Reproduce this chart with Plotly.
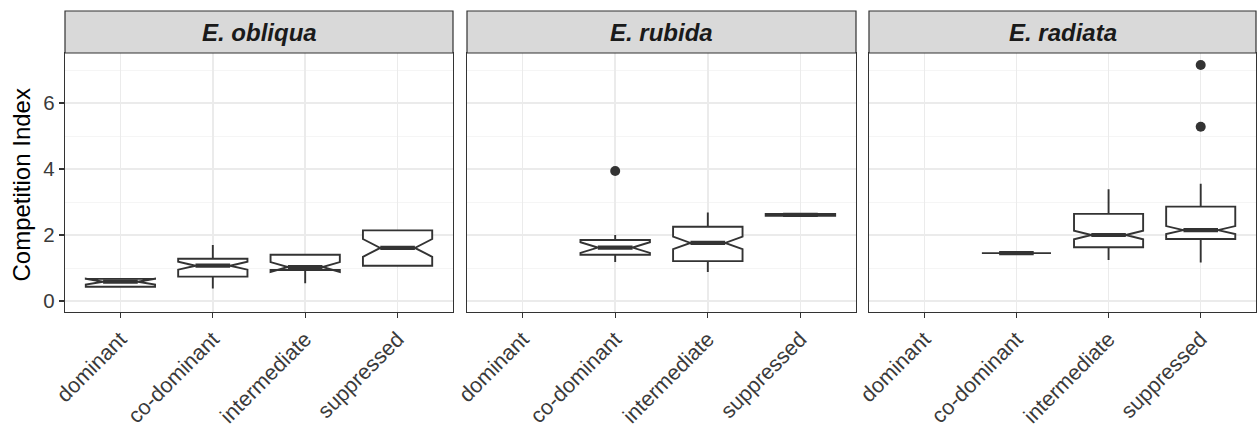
import plotly.graph_objects as go

# ---------------- data ----------------
categories = ["dominant", "co-dominant", "intermediate", "suppressed"]
species = ["E. obliqua", "E. rubida", "E. radiata"]

# E. obliqua
obl_pos = [1, 2, 3, 4]
obl_q1 = [0.43, 0.74, 0.94, 1.07]
obl_med = [0.585, 1.07, 1.03, 1.61]
obl_q3 = [0.67, 1.28, 1.40, 2.14]
obl_lo = [0.43, 0.38, 0.54, 1.07]
obl_hi = [0.67, 1.70, 1.40, 2.14]
obl_notch = [0.09, 0.12, 0.15, 0.27]
obl_out_x = []
obl_out_y = []

# E. rubida
rub_pos = [2, 3, 4]
rub_q1 = [1.40, 1.21, 2.585]
rub_med = [1.62, 1.76, 2.61]
rub_q3 = [1.85, 2.25, 2.635]
rub_lo = [1.18, 0.88, 2.585]
rub_hi = [2.00, 2.68, 2.635]
rub_notch = [0.16, 0.19, 0.01]
rub_out_x = [2]
rub_out_y = [3.94]

# E. radiata
rad_pos = [2, 3, 4]
rad_q1 = [1.45, 1.63, 1.88]
rad_med = [1.45, 2.00, 2.15]
rad_q3 = [1.45, 2.64, 2.86]
rad_lo = [1.45, 1.24, 1.17]
rad_hi = [1.45, 3.39, 3.55]
rad_notch = [0.0, 0.13, 0.12]
rad_out_x = [4, 4]
rad_out_y = [7.15, 5.28]

REF_LINE = 0

panels = [
    (obl_pos, obl_q1, obl_med, obl_q3, obl_lo, obl_hi, obl_notch, obl_out_x, obl_out_y),
    (rub_pos, rub_q1, rub_med, rub_q3, rub_lo, rub_hi, rub_notch, rub_out_x, rub_out_y),
    (rad_pos, rad_q1, rad_med, rad_q3, rad_lo, rad_hi, rad_notch, rad_out_x, rad_out_y),
]

# ---------------- style / layout ----------------
W, H = 1257, 428
FONT = "Liberation Sans, Arial, sans-serif"
DARK = "#333333"
TICKCOL = "#3A3A3A"
BOX_W = 0.75
panel_px = [(65, 453), (467, 856), (869, 1256)]
top_px, bot_px, strip_top_px = 53, 312, 11
ydom = [1 - bot_px / H, 1 - top_px / H]

fig = go.Figure()

for i, (pos, q1, med, q3, lo, hi, notch, ox, oy) in enumerate(panels):
    xa = "x" if i == 0 else f"x{i+1}"
    ya = "y" if i == 0 else f"y{i+1}"
    fig.add_trace(go.Box(
        x=pos, q1=q1, median=med, q3=q3, lowerfence=lo, upperfence=hi,
        notchspan=notch, notched=True, notchwidth=0.25,
        width=BOX_W, whiskerwidth=0, boxpoints=False,
        fillcolor="white", line=dict(color=DARK, width=1.9),
        xaxis=xa, yaxis=ya, showlegend=False, hoverinfo="skip",
    ))
    # thick median segments (ggplot fatten)
    mx, my = [], []
    for p, m in zip(pos, med):
        mx += [p - BOX_W / 4, p + BOX_W / 4, None]
        my += [m, m, None]
    fig.add_trace(go.Scatter(x=mx, y=my, mode="lines",
                             line=dict(color=DARK, width=4.2),
                             xaxis=xa, yaxis=ya, showlegend=False, hoverinfo="skip"))
    if ox:
        fig.add_trace(go.Scatter(x=ox, y=oy, mode="markers",
                                 marker=dict(color=DARK, size=10),
                                 xaxis=xa, yaxis=ya, showlegend=False, hoverinfo="skip"))

layout = dict(
    width=W, height=H,
    margin=dict(l=0, r=0, t=0, b=0),
    paper_bgcolor="white", plot_bgcolor="white",
    font=dict(family=FONT, color="#000000"),
    showlegend=False,
    shapes=[], annotations=[],
)

for i, (x0, x1) in enumerate(panel_px):
    xk = "xaxis" if i == 0 else f"xaxis{i+1}"
    yk = "yaxis" if i == 0 else f"yaxis{i+1}"
    yref = "y" if i == 0 else f"y{i+1}"
    xref = "x" if i == 0 else f"x{i+1}"
    layout[xk] = dict(
        domain=[x0 / W, x1 / W], anchor=yref, range=[0.4, 4.6],
        tickmode="array", tickvals=[1, 2, 3, 4], ticktext=categories,
        tickangle=-45, ticks="outside", ticklen=5, tickwidth=1.2, tickcolor=DARK,
        tickfont=dict(size=21.5, color=TICKCOL, family=FONT),
        showgrid=True, gridcolor="#EBEBEB", gridwidth=1.5,
        showline=True, mirror=True, linecolor=DARK, linewidth=1.2,
        zeroline=False, automargin=False, fixedrange=True,
    )
    layout[yk] = dict(
        domain=ydom, anchor=xref, range=[-0.333, 7.515],
        tickmode="linear", tick0=0, dtick=2,
        ticks="outside" if i == 0 else "", ticklen=5, tickwidth=1.2, tickcolor=DARK,
        showticklabels=(i == 0),
        tickfont=dict(size=20.5, color=TICKCOL, family=FONT),
        showgrid=True, gridcolor="#EBEBEB", gridwidth=1.5,
        minor=dict(dtick=1, tick0=0, showgrid=True, gridcolor="#F2F2F2", gridwidth=0.8, ticks=""),
        showline=True, mirror=True, linecolor=DARK, linewidth=1.2,
        zeroline=False, automargin=False, fixedrange=True,
    )
    if i > 0:
        layout[yk]["matches"] = "y"
    # dashed reference line at 0
    layout["shapes"].append(dict(
        type="line", xref=f"{xref} domain", x0=0, x1=1, yref=yref, y0=REF_LINE, y1=REF_LINE,
        line=dict(color="#A8A8A8", width=1.5, dash="8px,6px"), layer="below",
    ))
    # strip
    layout["shapes"].append(dict(
        type="rect", xref="paper", yref="paper",
        x0=x0 / W, x1=x1 / W, y0=1 - top_px / H, y1=1 - strip_top_px / H,
        fillcolor="#D9D9D9", line=dict(color=DARK, width=1.2), layer="above",
    ))
    layout["annotations"].append(dict(
        text=f"<b><i>{species[i]}</i></b>", xref="paper", yref="paper",
        x=(x0 + x1) / 2 / W, y=1 - (strip_top_px + top_px) / 2 / H,
        xanchor="center", yanchor="middle", showarrow=False,
        font=dict(size=24, color="#1A1A1A", family=FONT),
    ))

layout["annotations"].append(dict(
    text="Competition Index", xref="paper", yref="paper",
    x=21.5 / W, y=1 - 185 / H, textangle=-90,
    xanchor="center", yanchor="middle", showarrow=False,
    font=dict(size=24, color="#000000", family=FONT),
))

fig.update_layout(**layout)
fig.write_html(
    "out.html",
    config={"displayModeBar": False, "staticPlot": True},
    post_script="document.body.style.margin='0';document.body.style.overflow='hidden';",
)
